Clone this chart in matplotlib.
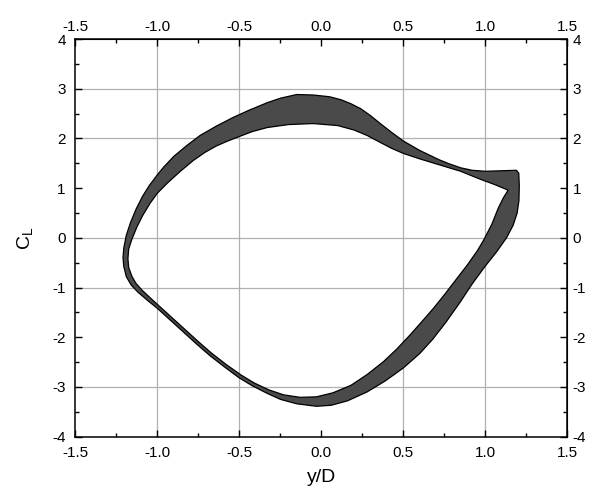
import matplotlib
matplotlib.use('Agg')
import matplotlib.pyplot as plt
from matplotlib.path import Path
from matplotlib.patches import PathPatch
import numpy as np

# outer envelope of the limit-cycle band (y/D, C_L)
outer_y = [1.19, 1.10, 1.00, 0.92, 0.85, 0.78, 0.72, 0.60, 0.50, 0.43, 0.36, 0.30,
           0.24, 0.18, 0.12, 0.05, -0.05, -0.15, -0.25, -0.33, -0.44, -0.54, -0.64,
           -0.74, -0.82, -0.90, -0.96, -1.00, -1.05, -1.09, -1.13, -1.165, -1.19,
           -1.205, -1.21, -1.205, -1.19, -1.16, -1.12, -1.06, -1.00, -0.92, -0.84,
           -0.76, -0.68, -0.59, -0.50, -0.42, -0.33, -0.25, -0.15, -0.03, 0.06, 0.16,
           0.28, 0.39, 0.50, 0.60, 0.68, 0.76, 0.846, 0.92, 1.00, 1.07, 1.13, 1.17,
           1.195, 1.206, 1.208, 1.205]
outer_cl = [1.36, 1.35, 1.34, 1.36, 1.41, 1.49, 1.57, 1.76, 1.95, 2.12, 2.30, 2.46,
            2.60, 2.70, 2.78, 2.84, 2.875, 2.885, 2.81, 2.72, 2.57, 2.42, 2.25,
            2.06, 1.86, 1.64, 1.43, 1.27, 1.05, 0.84, 0.58, 0.30, 0.05,
            -0.20, -0.40, -0.58, -0.78, -0.95, -1.09, -1.26, -1.42, -1.66, -1.90,
            -2.14, -2.37, -2.60, -2.82, -2.98, -3.13, -3.25, -3.34, -3.39, -3.37, -3.28,
            -3.10, -2.88, -2.62, -2.33, -2.04, -1.70, -1.30, -0.93, -0.57, -0.28, 0.00, 0.25,
            0.50, 0.75, 1.05, 1.30]

# inner edge (hole) of the band
inner_y = [1.14, 1.06, 0.97, 0.85, 0.78, 0.72, 0.60, 0.50, 0.43, 0.36, 0.28, 0.20, 0.10,
           -0.05, -0.20, -0.33, -0.42, -0.50, -0.57, -0.64, -0.71, -0.78, -0.86, -0.94,
           -1.00, -1.044, -1.09, -1.125, -1.155, -1.175, -1.18, -1.175, -1.155, -1.13,
           -1.095, -1.04, -0.99, -0.91, -0.83, -0.75, -0.67, -0.58, -0.49, -0.41, -0.32,
           -0.23, -0.13, -0.03, 0.07, 0.18, 0.28, 0.38, 0.46, 0.54, 0.61, 0.684, 0.75,
           0.82, 0.89, 0.95, 0.99, 1.04, 1.08, 1.11]
inner_cl = [0.96, 1.07, 1.18, 1.34, 1.41, 1.47, 1.59, 1.70, 1.80, 1.92, 2.06, 2.17, 2.26,
            2.30, 2.28, 2.22, 2.14, 2.04, 1.95, 1.85, 1.72, 1.56, 1.34, 1.10,
            0.90, 0.70, 0.45, 0.22, -0.02, -0.22, -0.42, -0.60, -0.78, -0.92,
            -1.05, -1.22, -1.37, -1.61, -1.85, -2.09, -2.32, -2.55, -2.76, -2.92, -3.06,
            -3.16, -3.21, -3.20, -3.12, -2.97, -2.75, -2.49, -2.24, -1.96, -1.70, -1.42, -1.15,
            -0.85, -0.55, -0.27, -0.05, 0.27, 0.60, 0.80]

x_ticks = [-1.5, -1.0, -0.5, 0.0, 0.5, 1.0, 1.5]
y_ticks = [-4, -3, -2, -1, 0, 1, 2, 3, 4]
# grid lines that show in the original
grid_x = [-1.0, -0.5, 0.5, 1.0]
grid_y = [-3, -1, 0, 2, 3]

plt.rcParams.update({
    'font.family': ['Liberation Sans', 'DejaVu Sans'],
    'axes.unicode_minus': False,
})

fig = plt.figure(figsize=(5.92, 4.95), dpi=100)
ax = fig.add_axes([0.1275, 0.118, 0.8305, 0.803])

for gx in grid_x:
    ax.axvline(gx, color='#b0b0b0', lw=0.9, zorder=0)
for gy in grid_y:
    ax.axhline(gy, color='#b0b0b0', lw=0.9, zorder=0)

ov = np.column_stack([outer_y + outer_y[:1], outer_cl + outer_cl[:1]])
iv = np.column_stack([inner_y + inner_y[:1], inner_cl + inner_cl[:1]])[::-1]
verts = np.vstack([ov, iv])
codes = ([Path.MOVETO] + [Path.LINETO] * (len(ov) - 2) + [Path.CLOSEPOLY] +
         [Path.MOVETO] + [Path.LINETO] * (len(iv) - 2) + [Path.CLOSEPOLY])
band = PathPatch(Path(verts, codes), facecolor='#4a4a4a', edgecolor='black',
                 lw=0.9, joinstyle='round', zorder=2)
ax.add_patch(band)

ax.set_xlim(-1.5, 1.5)
ax.set_ylim(-4, 4)
ax.set_xticks(x_ticks)
ax.set_xticklabels([f'{v:.1f}' for v in x_ticks])
ax.set_yticks(y_ticks)
ax.set_xticks(np.arange(-1.5, 1.51, 0.25), minor=True)
ax.set_yticks(np.arange(-4, 4.01, 0.5), minor=True)
ax.tick_params(which='both', direction='in', top=False, right=False,
               labelsize=11, width=1)
ax.tick_params(which='major', length=5)
ax.tick_params(which='minor', length=3)
ax.tick_params(axis='x', pad=7)
ax.tick_params(axis='y', pad=7)

# top and right axes carry their own labels (different offsets)
top = ax.secondary_xaxis('top')
top.set_xticks(x_ticks)
top.set_xticklabels([f'{v:.1f}' for v in x_ticks])
top.set_xticks(np.arange(-1.5, 1.51, 0.25), minor=True)
right = ax.secondary_yaxis('right')
right.set_yticks(y_ticks)
right.set_yticks(np.arange(-4, 4.01, 0.5), minor=True)
for sec in (top, right):
    sec.tick_params(which='both', direction='in', labelsize=11, width=1)
    sec.tick_params(which='major', length=5, pad=4)
    sec.tick_params(which='minor', length=3)

for s in ax.spines.values():
    s.set_linewidth(1.1)

ax.set_xlabel('y/D', fontsize=14, labelpad=6)
ax.set_ylabel('C$_\\mathregular{L}$', fontsize=14, labelpad=12)

fig.savefig('out.png', dpi=100)
